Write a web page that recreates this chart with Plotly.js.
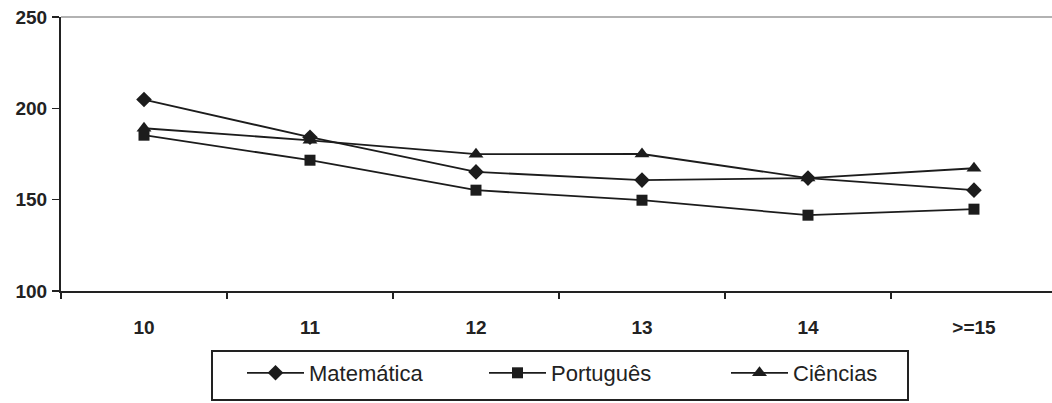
<!DOCTYPE html>
<html>
<head>
<meta charset="utf-8">
<script src="https://cdn.plot.ly/plotly-3.0.1.min.js"></script>
<style>html,body{margin:0;padding:0;background:#fff;}#chart{width:1052px;height:403px;}</style>
</head>
<body>
<div id="chart"></div>
<script>
const categories = ["10", "11", "12", "13", "14", ">=15"];
const matematica = [204.8, 184.2, 165.2, 160.7, 161.8, 155.2];
const portugues = [185.3, 171.6, 155.2, 149.7, 141.5, 144.8];
const ciencias = [189.1, 182.5, 174.9, 175.0, 161.8, 167.2];
const seriesNames = ["Matemática", "Português", "Ciências"];

const lineColor = "#1c1c1c";
function trace(name, y, symbol, size) {
  return {
    type: "scatter", mode: "lines+markers", name: name,
    x: categories, y: y,
    line: {color: lineColor, width: 1.8},
    marker: {symbol: symbol, size: size, color: lineColor, line: {width: 0}}
  };
}
const data = [
  trace(seriesNames[0], matematica, "diamond", 12),
  trace(seriesNames[1], portugues, "square", 11),
  trace(seriesNames[2], ciencias, "triangle-up", 13)
];

const W = 1052, H = 403, L = 61, T = 17, B = 112;
const pw = W - L, ph = H - T - B;
const px = v => (v - L) / pw;
const py = v => (H - B - v) / ph;

const tickFont = {size: 19, family: "Liberation Sans, Arial, sans-serif", weight: "bold", color: "#222"};

const layout = {
  width: W, height: H,
  margin: {l: L, r: 0, t: T, b: B, pad: 0, autoexpand: false},
  paper_bgcolor: "#fff", plot_bgcolor: "#fff",
  font: {family: "Liberation Sans, Arial, sans-serif", color: "#222"},
  xaxis: {
    type: "category", range: [-0.5, 5.47],
    showgrid: false, zeroline: false,
    showline: true, linecolor: "#222", linewidth: 2,
    ticks: "outside", ticklen: 6, tickwidth: 1.5, tickcolor: "#222",
    tickson: "boundaries",
    ticklabelstandoff: 18,
    tickfont: tickFont,
    fixedrange: true
  },
  yaxis: {
    range: [100, 250], tickvals: [100, 150, 200, 250],
    showgrid: false, zeroline: false,
    showline: true, linecolor: "#222", linewidth: 2,
    ticks: "outside", ticklen: 7, tickwidth: 1.5, tickcolor: "#222",
    tickfont: tickFont,
    ticklabelstandoff: 1,
    fixedrange: true
  },
  shapes: [
    {type: "line", xref: "paper", yref: "paper", x0: 0, x1: 1, y0: 1, y1: 1,
     line: {color: "#999", width: 1.5}},
    {type: "rect", xref: "paper", yref: "paper",
     x0: px(212), x1: px(908), y0: py(400), y1: py(351),
     line: {color: "#222", width: 2}, fillcolor: "rgba(0,0,0,0)"}
  ],
  showlegend: true,
  legend: {
    orientation: "h", xref: "paper", yref: "paper",
    x: px(242), xanchor: "left", y: py(373), yanchor: "middle",
    bgcolor: "rgba(0,0,0,0)", borderwidth: 0,
    font: {size: 22, family: "Liberation Sans, Arial, sans-serif", color: "#222"},
    itemwidth: 57, entrywidth: 170, entrywidthmode: "pixels",
    traceorder: "normal"
  }
};

Plotly.newPlot("chart", data, layout, {displayModeBar: false, staticPlot: true});
</script>
</body>
</html>
